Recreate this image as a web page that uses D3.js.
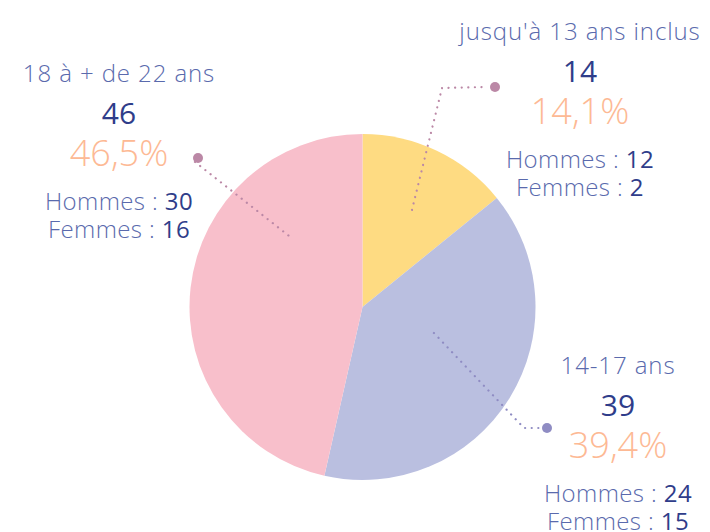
<!DOCTYPE html>
<html>
<head>
<meta charset="utf-8">
<script src="https://cdn.jsdelivr.net/npm/d3@7"></script>
<style>
  body { margin: 0; background: #fff; }
  svg { display: block; font-family: "Open Sans", Lato, sans-serif; font-weight: 300; }
</style>
</head>
<body>
<div id="chart"></div>
<script>
const width = 710;
const height = 532;

// data
const categories = ["jusqu'à 13 ans inclus", "14-17 ans", "18 à + de 22 ans"];
const counts = [14, 39, 46];
const percents = ["14,1%", "39,4%", "46,5%"];
const hommes = [12, 24, 30];
const femmes = [2, 15, 16];

const colors = ["#fedb82", "#babfe0", "#f8bfcb"];
const leaderColors = ["#bb88a6", "#8f8cc3", "#bb88a6"];

// layout for label blocks and leader lines (angle in degrees, clockwise from top)
const labelPos = [
    { x: 580, y: 40, innerAngle: 27, innerR: 109, elbow: [442, 88], dot: [495, 87] },
    { x: 618, y: 374, innerAngle: 110, innerR: 76, elbow: [524, 428], dot: [547, 428] },
    { x: 119, y: 82, innerAngle: 314, innerR: 103, elbow: null, dot: [198, 158] }
];

const cx = 362.5, cy = 307, radius = 173;

const svg = d3.select("#chart")
    .append("svg")
    .attr("width", width)
    .attr("height", height);

const pie = d3.pie().sort(null).value(d => d);
const arc = d3.arc().innerRadius(0).outerRadius(radius);

const g = svg.append("g")
    .attr("transform", `translate(${cx},${cy})`);

g.selectAll("path.slice")
    .data(pie(counts))
    .join("path")
    .attr("class", "slice")
    .attr("d", arc)
    .attr("fill", (d, i) => colors[i]);

// leader lines
labelPos.forEach((p, i) => {
    const inner = d3.pointRadial(p.innerAngle * Math.PI / 180, p.innerR);
    const pts = [[inner[0] + cx, inner[1] + cy]];
    if (p.elbow) pts.push(p.elbow);
    pts.push([p.dot[0] - 8, p.dot[1]]);
    svg.append("path")
        .attr("d", d3.line()(pts))
        .attr("fill", "none")
        .attr("stroke", leaderColors[i])
        .attr("stroke-width", 2.2)
        .attr("stroke-linecap", "round")
        .attr("stroke-dasharray", "0.1 6.5");
    svg.append("circle")
        .attr("cx", p.dot[0])
        .attr("cy", p.dot[1])
        .attr("r", 5)
        .attr("fill", leaderColors[i]);
});

// label blocks
const labels = svg.selectAll("g.label")
    .data(categories)
    .join("g")
    .attr("class", "label")
    .attr("transform", (d, i) => `translate(${labelPos[i].x},${labelPos[i].y})`)
    .attr("text-anchor", "middle");

labels.append("text")
    .attr("font-size", 24)
    .attr("letter-spacing", 0.9)
    .attr("fill", "#5a6aad")
    .text(d => d);

labels.append("text")
    .attr("y", 42)
    .attr("font-size", 30)
    .attr("font-weight", 400)
    .attr("fill", "#2f3d8a")
    .text((d, i) => counts[i]);

labels.append("text")
    .attr("y", 84)
    .attr("font-size", 36)
    .attr("fill", "#fdb994")
    .text((d, i) => percents[i]);

labels.append("text")
    .attr("y", 128)
    .attr("font-size", 24)
    .attr("letter-spacing", 0.4)
    .attr("fill", "#5a6aad")
    .text("Hommes : ")
    .append("tspan")
    .attr("fill", "#2f3d8a")
    .attr("font-weight", 400)
    .text((d, i) => hommes[i]);

labels.append("text")
    .attr("y", 156)
    .attr("font-size", 24)
    .attr("letter-spacing", 0.4)
    .attr("fill", "#5a6aad")
    .text("Femmes : ")
    .append("tspan")
    .attr("fill", "#2f3d8a")
    .attr("font-weight", 400)
    .text((d, i) => femmes[i]);
</script>
</body>
</html>
